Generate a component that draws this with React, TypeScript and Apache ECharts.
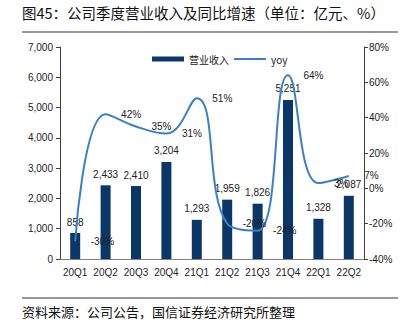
import React, { useEffect, useRef } from "react";
import * as echarts from "echarts";

const categories = ["20Q1", "20Q2", "20Q3", "20Q4", "21Q1", "21Q2", "21Q3", "21Q4", "22Q1", "22Q2"];
const revenue = [858, 2433, 2410, 3204, 1293, 1959, 1826, 5251, 1328, 2087];
const yoy = [-30, 42, 35, 31, 51, -20, -24, 64, 3, 7];
const titleText = "图45：公司季度营业收入及同比增速（单位：亿元、%）";
const sourceText = "资料来源：公司公告，国信证券经济研究所整理";
const seriesNames = ["营业收入", "yoy"];

const NUM_FONT = "'Liberation Sans Narrow', 'Liberation Sans', Arial, sans-serif";
const CJK_FONT = "'Noto Sans CJK SC', sans-serif";

const fmt = (v: number) => v.toLocaleString("en-US");

export default function App() {
  const ref = useRef<HTMLDivElement>(null);
  useEffect(() => {
    if (!ref.current) return;
    const chart = echarts.init(ref.current, null, { renderer: "svg" });
    chart.setOption({
      animation: false,
      backgroundColor: "#ffffff",
      grid: { left: 60, right: 37, top: 47, bottom: 71 },
      legend: {
        left: 147,
        top: 49,
        itemGap: 4,
        itemWidth: 32,
        itemHeight: 5,
        textStyle: { fontSize: 10, color: "#222", fontFamily: CJK_FONT },
        data: [{ name: seriesNames[0], icon: "rect" }, { name: seriesNames[1] }],
      },
      xAxis: {
        type: "category",
        data: categories,
        axisLine: { onZero: false, lineStyle: { color: "#7f7f7f", width: 1 } },
        axisTick: { show: false },
        axisLabel: { interval: 0, fontSize: 10, margin: 8, color: "#222", fontFamily: NUM_FONT },
      },
      yAxis: [
        {
          type: "value",
          min: 0,
          max: 7000,
          interval: 1000,
          position: "left",
          splitLine: { show: false },
          axisLine: { show: true, lineStyle: { color: "#404040", width: 1 } },
          axisTick: { show: true, length: 4, lineStyle: { color: "#404040" } },
          axisLabel: {
            fontSize: 10,
            margin: 7,
            color: "#222",
            fontFamily: NUM_FONT,
            formatter: (v: number) => fmt(v),
          },
        },
        {
          type: "value",
          min: -40,
          max: 80,
          interval: 20,
          position: "right",
          splitLine: { show: false },
          axisLine: { show: true, lineStyle: { color: "#404040", width: 1 } },
          axisTick: { show: true, length: 4, lineStyle: { color: "#404040" } },
          axisLabel: {
            fontSize: 10,
            margin: 5,
            color: "#222",
            fontFamily: NUM_FONT,
            formatter: "{value}%",
          },
        },
      ],
      series: [
        {
          name: seriesNames[0],
          type: "bar",
          data: revenue,
          barWidth: 10,
          yAxisIndex: 0,
          itemStyle: { color: "#0b3768" },
          label: {
            show: true,
            position: "top",
            distance: 6,
            fontSize: 10,
            color: "#222",
            fontFamily: NUM_FONT,
            formatter: (p: any) => fmt(p.value),
          },
          z: 2,
        },
        {
          name: seriesNames[1],
          type: "line",
          data: yoy,
          yAxisIndex: 1,
          smooth: 0.45,
          symbol: "circle",
          symbolSize: 1,
          showSymbol: true,
          lineStyle: { color: "#3a7fcb", width: 2 },
          itemStyle: { color: "rgba(0,0,0,0)" },
          label: {
            show: true,
            position: "right",
            distance: 15,
            fontSize: 10,
            color: "#222",
            fontFamily: NUM_FONT,
            formatter: "{c}%",
          },
          labelLayout: { hideOverlap: false },
          z: 3,
        },
      ],
      graphic: [
        {
          type: "text",
          left: 22,
          top: 5,
          style: { text: titleText, fontSize: 14.5, fill: "#111", fontFamily: CJK_FONT },
        },
        {
          type: "line",
          shape: { x1: 22, y1: 32, x2: 398, y2: 32 },
          style: { stroke: "#333", lineWidth: 1 },
        },
        {
          type: "line",
          shape: { x1: 22, y1: 298, x2: 398, y2: 298 },
          style: { stroke: "#333", lineWidth: 1 },
        },
        {
          type: "text",
          left: 22,
          top: 305,
          style: { text: sourceText, fontSize: 13, fill: "#111", fontFamily: CJK_FONT },
        },
      ],
    });
    return () => chart.dispose();
  }, []);
  return (
    <div
      ref={ref}
      style={{ position: "fixed", left: 0, top: 0, width: 401, height: 330, background: "#fff" }}
    />
  );
}
